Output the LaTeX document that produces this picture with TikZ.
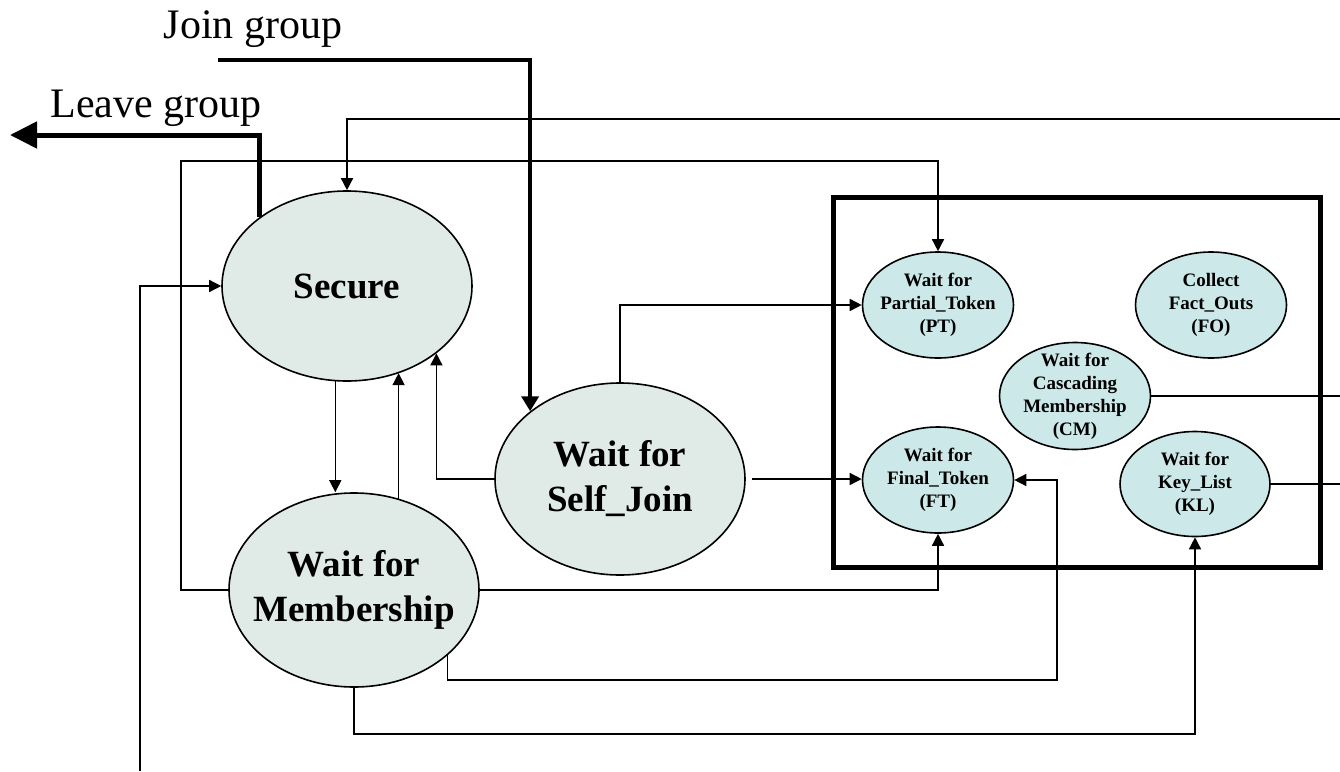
\documentclass[tikz,border=0pt]{standalone}
\usepackage{fontspec}
\setmainfont{Liberation Serif}
\usetikzlibrary{shapes.geometric,arrows.meta}
\definecolor{bigfill}{HTML}{E0EBE7}
\definecolor{smallfill}{HTML}{CCE8E8}
\begin{document}
\begin{tikzpicture}[x=1pt,y=-1pt,
  state/.style={ellipse,draw,line width=1.6pt,inner sep=-20pt,align=center},
  bigstate/.style={state,fill=bigfill,minimum width=250pt,font=\fontsize{37}{45}\selectfont\bfseries},
  smallstate/.style={state,fill=smallfill,minimum width=151pt,minimum height=106pt,font=\fontsize{19}{23}\selectfont\bfseries},
  lbl/.style={anchor=base,inner sep=0pt,font=\fontsize{42}{50}\selectfont},
  conn/.style={line width=1.5pt},
  arr/.style={conn,-{Triangle[length=12pt,width=12pt]}},
  joinarr/.style={line width=4pt,-{Triangle[length=15pt,width=17pt]}},
  leavearr/.style={line width=5pt,-{Triangle[length=27pt,width=26pt]}},
  groupbox/.style={draw,line width=5pt,inner sep=0pt}]
\useasboundingbox (0,0) rectangle (1340,771);

% group box
\node[groupbox,minimum width=487pt,minimum height=370pt] (grp) at (1076.5,382) {};

% states
\node[bigstate,minimum height=190pt] (sec) at (347,286) {Secure};
\node[bigstate,minimum height=194pt] (mem) at (354,590) {Wait for\\Membership};
\node[bigstate,minimum height=192pt] (sj) at (620,479) {Wait for\\Self\_Join};

\node[smallstate] (pt) at (938,305) {Wait for\\Partial\_Token\\(PT)};
\node[smallstate] (fo) at (1211,305) {Collect\\Fact\_Outs\\(FO)};
\node[smallstate,minimum height=107pt] (cm) at (1075,396) {Wait for\\Cascading\\Membership\\(CM)};
\node[smallstate] (ft) at (938,480) {Wait for\\Final\_Token\\(FT)};
\node[smallstate,minimum width=150pt,minimum height=105pt] (kl) at (1195,484) {Wait for\\Key\_List\\(KL)};

% labels
\node[lbl] (join) at (253,38) {Join group};
\node[lbl] (leave) at (156,117) {Leave group};

% free ends and corners
\coordinate (j0) at (218,60);
\coordinate (l0) at (10,135);
\coordinate (t0) at (1340,119);
\coordinate (k1) at (181,161);
\coordinate (b0) at (140,771);
\coordinate (k2) at (1057,680);
\coordinate (k3) at (1195,734);
\coordinate (e1) at (1340,0);

% connectors
\draw[joinarr] (j0) -| (sj.143);
\draw[leavearr] (sec.142) |- (l0);
\draw[arr] (t0) -| (sec.north);
\draw[arr] (mem.west) -| (k1) -| (pt.north);
\draw[arr] (b0) |- (sec.west);
\draw[arr] (sec.263) -- (sec.263 |- mem.north);
\draw[arr] (mem.64) -- (mem.64 |- sec.301);
\draw[arr] (sj.west) -| (sec.323);
\draw[arr] (sj.north) |- (pt.west);
\draw[arr,shorten <=6pt] (sj.east) -- (sj.east -| ft.west);
\draw[arr] (mem.east) -| (ft.south);
\draw[arr] (mem.325) |- (k2) |- (ft.east);
\draw[arr] (mem.south) |- (k3) -- (kl.south);
\draw[conn] (cm.east) -- (cm.east -| e1);
\draw[conn] (kl.east) -- (kl.east -| e1);
\end{tikzpicture}
\end{document}
